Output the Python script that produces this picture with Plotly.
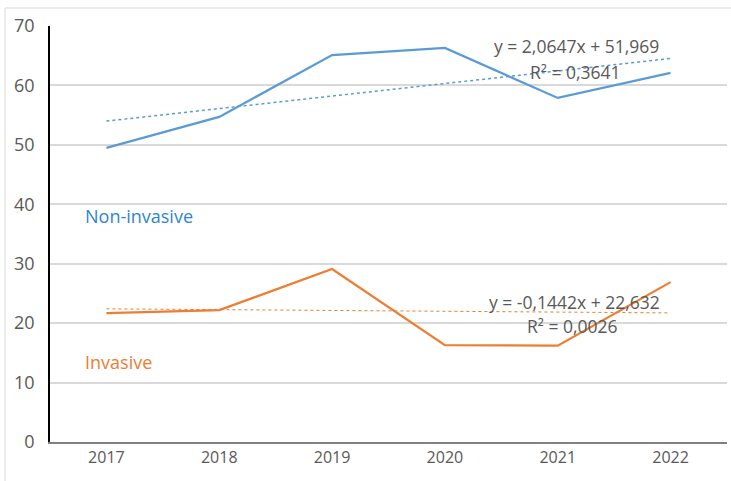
import numpy as np
import plotly.graph_objects as go

years = ["2017", "2018", "2019", "2020", "2021", "2022"]
non_invasive = [49.5, 54.7, 65.1, 66.3, 57.9, 62.1]
invasive = [21.7, 22.2, 29.1, 16.3, 16.2, 26.9]
y_ticks = [0, 10, 20, 30, 40, 50, 60, 70]

blue = "#5B9BD5"
orange = "#ED7D31"
gray_text = "#595959"
font_fam = "Open Sans, Arial"

idx = np.arange(1, len(years) + 1)
b_fit = np.polyfit(idx, non_invasive, 1)
o_fit = np.polyfit(idx, invasive, 1)

fig = go.Figure()
fig.add_trace(go.Scatter(x=years, y=non_invasive, mode="lines",
                         line=dict(color=blue, width=2.25), showlegend=False))
fig.add_trace(go.Scatter(x=years, y=np.polyval(b_fit, idx), mode="lines",
                         line=dict(color=blue, width=1.5, dash="dot"), showlegend=False))
fig.add_trace(go.Scatter(x=years, y=invasive, mode="lines",
                         line=dict(color=orange, width=2.25), showlegend=False))
fig.add_trace(go.Scatter(x=years, y=np.polyval(o_fit, idx), mode="lines",
                         line=dict(color=orange, width=1.0, dash="dot"), showlegend=False))

ann_font = dict(family=font_fam, size=17.5, color=gray_text)
fig.add_annotation(x=4.17, y=66.6, xref="x", yref="y", text="y = 2,0647x + 51,969",
                   showarrow=False, font=ann_font)
fig.add_annotation(x=4.16, y=62.3, xref="x", yref="y", text="R² = 0,3641",
                   showarrow=False, font=ann_font)
fig.add_annotation(x=4.15, y=23.6, xref="x", yref="y", text="y = -0,1442x + 22,632",
                   showarrow=False, font=ann_font)
fig.add_annotation(x=4.13, y=19.5, xref="x", yref="y", text="R² = 0,0026",
                   showarrow=False, font=ann_font)
fig.add_annotation(x=-0.21, y=38.0, xref="x", yref="y", text="Non-invasive",
                   showarrow=False, xanchor="left",
                   font=dict(family=font_fam, size=18, color="#2E86D0"))
fig.add_annotation(x=-0.21, y=13.5, xref="x", yref="y", text="Invasive",
                   showarrow=False, xanchor="left",
                   font=dict(family=font_fam, size=18, color=orange))

# outer chart frame (top and left edges)
fig.add_shape(type="line", xref="paper", yref="paper",
              x0=(5 - 50) / 677, x1=1.01, y0=1 + 18 / 416, y1=1 + 18 / 416,
              line=dict(color="#D9D9D9", width=1))
fig.add_shape(type="line", xref="paper", yref="paper",
              x0=(5 - 50) / 677, x1=(5 - 50) / 677, y0=1 + 18 / 416, y1=-0.2,
              line=dict(color="#D9D9D9", width=1))

fig.update_layout(
    width=731, height=481,
    margin=dict(l=50, r=4, t=26, b=39, autoexpand=False),
    paper_bgcolor="white", plot_bgcolor="white",
    font=dict(family=font_fam, size=16, color=gray_text),
    xaxis=dict(type="category", showgrid=False, showline=True, linecolor="#808080",
               linewidth=2, ticks="", tickfont=dict(size=16, color=gray_text),
               range=[-0.5, 5.5], zeroline=False, automargin=False),
    yaxis=dict(range=[0, 70], tickvals=y_ticks, showgrid=True, gridcolor="#D9D9D9",
               gridwidth=1.5, showline=True, linecolor="black", linewidth=1.5,
               ticks="", tickfont=dict(size=18, color=gray_text), zeroline=False,
               ticklabelstandoff=10, automargin=False),
)

fig.write_html("out.html", config={"displayModeBar": False},
               post_script="document.body.style.margin='0';document.body.style.overflow='hidden';")
